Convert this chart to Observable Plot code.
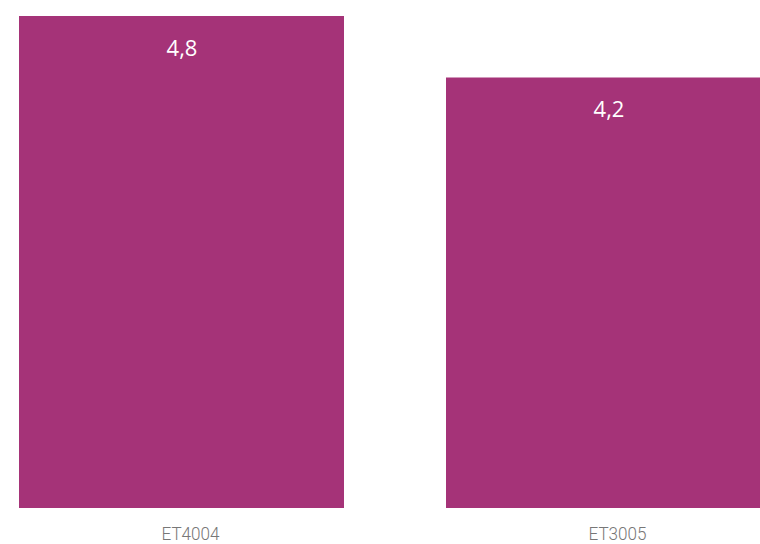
<!DOCTYPE html>
<html>
<head>
<meta charset="utf-8">
<script src="https://cdn.jsdelivr.net/npm/d3@7"></script>
<script src="https://cdn.jsdelivr.net/npm/@observablehq/plot@0.6"></script>
<style>
  html, body { margin: 0; padding: 0; background: #fff; overflow: hidden; }
</style>
</head>
<body>
<div id="chart"></div>
<script>
const categories = ["ET4004", "ET3005"];
const values = [4.8, 4.2];
const valueLabels = ["4,8", "4,2"];

const data = categories.map((c, i) => ({category: c, value: values[i], label: valueLabels[i]}));

const chart = Plot.plot({
  width: 760,
  height: 544,
  marginTop: 16,
  marginBottom: 36,
  marginLeft: 0,
  marginRight: 0,
  style: {background: "#fff"},
  x: {
    domain: categories,
    range: [19, 771],
    paddingInner: 0.2389,
    paddingOuter: 0,
    label: null
  },
  y: {domain: [0, 4.8], axis: null},
  marks: [
    Plot.barY(data, {x: "category", y: "value", fill: "#a53378"}),
    Plot.text(data, {
      x: "category", y: "value", text: "label",
      dy: 32, fill: "#ffffff", fontSize: 22,
      fontFamily: "'Open Sans', sans-serif"
    }),
    Plot.axisX({
      tickSize: 0, tickPadding: 0, dx: 8.5, dy: 18,
      fontSize: 19, fill: "#777777", fontWeight: 300,
      fontFamily: "Roboto, sans-serif",
      label: null
    })
  ]
});
// condense the tick labels to match the narrow typeface of the original
d3.select(chart).selectAll("g[aria-label='x-axis tick label'] text")
  .attr("textLength", 58)
  .attr("lengthAdjust", "spacingAndGlyphs");
document.getElementById("chart").appendChild(chart);
</script>
</body>
</html>
